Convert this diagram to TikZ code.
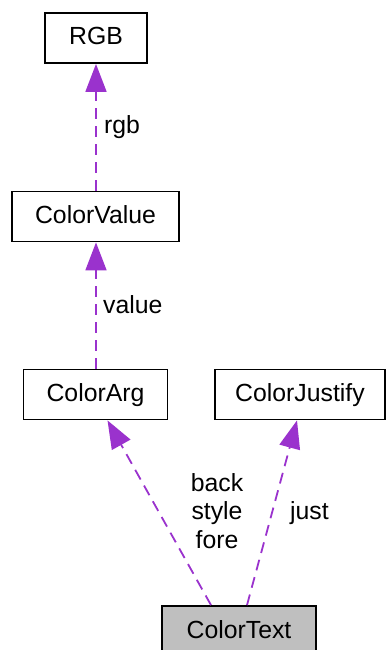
\documentclass[tikz,border=0pt]{standalone}
\usepackage{fontspec}
\setmainfont{Liberation Sans}
\usetikzlibrary{arrows.meta}
\definecolor{edgepurple}{HTML}{9A32CD}
\definecolor{boxgray}{HTML}{BFBFBF}
\begin{document}
\begin{tikzpicture}[x=1pt,y=1pt,
  cls/.style={draw=black, line width=1.8pt, fill=white, inner sep=0pt,
    minimum height=50pt, text height=18pt, text depth=4pt,
    font=\fontsize{24.8}{28.5}\selectfont},
  lbl/.style={inner sep=0pt, font=\fontsize{24.8}{28.5}\selectfont},
  rel/.style={draw=edgepurple, line width=1.8pt, dash pattern=on 11pt off 7pt,
    -{Triangle[length=28pt,width=21pt,fill=edgepurple]}}
]
\useasboundingbox (0,0) rectangle (386,-650);
\node[cls, minimum width=102pt] (rgb) at (96,-38) {RGB};
\node[cls, minimum width=167pt] (cv) at (95.5,-216.5) {ColorValue};
\node[cls, minimum width=144pt] (ca) at (95.5,-394.5) {ColorArg};
\node[cls, minimum width=170pt] (cj) at (300,-394.5) {ColorJustify};
\node[cls, minimum width=154pt, fill=boxgray] (ct) at (239,-631) {ColorText};

\draw[rel] ([xshift=0.5pt]cv.north) -- (rgb.south);
\draw[rel] ([xshift=0.5pt]ca.north) -- ([xshift=0.5pt]cv.south);
\draw[rel] ([xshift=-28pt]ct.north) -- ([xshift=12pt]ca.south);
\draw[rel] ([xshift=8pt]ct.north) -- ([xshift=-3pt]cj.south);

\node[lbl, anchor=base west] (lrgb) at (104,-134) {rgb};
\node[lbl, anchor=base west] (lval) at (103,-313) {value};
\node[lbl, anchor=base, align=center] (lbsf) at (217,-548) {back\\style\\fore};
\node[lbl, anchor=base west] (ljust) at (290,-519) {just};
\end{tikzpicture}
\end{document}
